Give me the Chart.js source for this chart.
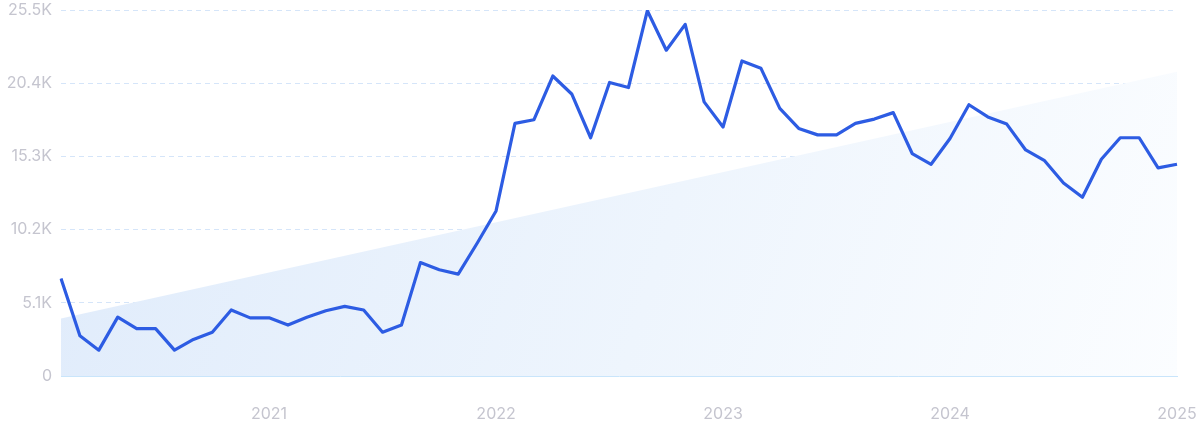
<!DOCTYPE html>
<html>
<head>
<meta charset="utf-8">
<script src="https://cdn.jsdelivr.net/npm/chart.js@4.4.1/dist/chart.umd.min.js"></script>
<style>
  html, body { margin:0; padding:0; background:#fff; }
  .wrap { width:1200px; height:432px; position:relative; }
</style>
</head>
<body>
<div class="wrap"><canvas id="trendChart"></canvas></div>
<script>
// monthly, Feb 2020 .. Jan 2025
const months = [];
for (let y = 2020; y <= 2025; y++) {
  for (let m = 1; m <= 12; m++) {
    if ((y === 2020 && m < 2) || (y === 2025 && m > 1)) continue;
    months.push(`${y}-${String(m).padStart(2, '0')}`);
  }
}

const searches = [
  6800, 2800, 1800, 4100, 3300, 3300, 1800, 2550, 3050, 4600, 4050,
  4050, 3550, 4100, 4550, 4850, 4600, 3050, 3550, 7900, 7400, 7100, 9250,
  11500, 17600, 17850, 20900, 19650, 16600, 20450, 20100, 25450, 22700, 24500, 19100,
  17350, 21950, 21450, 18650, 17250, 16800, 16800, 17600, 17900, 18350, 15500, 14750,
  16550, 18900, 18050, 17550, 15750, 15000, 13450, 12450, 15100, 16600, 16600, 14500,
  14750
];

const trendStart = 4000;
const trendEnd = 21200;

const yTicks = [0, 5100, 10200, 15300, 20400, 25500];
const yTickLabels = ['0', '5.1K', '10.2K', '15.3K', '20.4K', '25.5K'];

const tickColor = '#c5c5cf';
const font = { family: 'Inter, "Noto Sans", sans-serif', size: 16 };

function trendFill(ctx) {
  const area = ctx.chart.chartArea;
  if (!area) return 'rgba(220,233,251,0.8)';
  const g = ctx.chart.ctx.createLinearGradient(area.left, area.top, area.right, area.bottom);
  g.addColorStop(0, '#dfebfb');
  g.addColorStop(0.55, '#eef5fd');
  g.addColorStop(1, '#fbfdff');
  return g;
}

new Chart(document.getElementById('trendChart'), {
  type: 'line',
  data: {
    labels: months,
    datasets: [
      {
        label: 'Searches',
        data: searches,
        borderColor: '#2d5ce3',
        borderWidth: 3.2,
        borderJoinStyle: 'round',
        pointRadius: 0,
        tension: 0,
        fill: false,
        order: 0
      },
      {
        label: 'Trend',
        data: [{ x: months[0], y: trendStart }, { x: months[months.length - 1], y: trendEnd }],
        borderWidth: 0,
        borderColor: 'rgba(0,0,0,0)',
        backgroundColor: trendFill,
        pointRadius: 0,
        fill: 'origin',
        order: 1
      }
    ]
  },
  options: {
    responsive: true,
    maintainAspectRatio: false,
    animation: false,
    layout: { padding: { top: 10, right: 23, bottom: 0, left: 0 } },
    plugins: { legend: { display: false }, tooltip: { enabled: false } },
    scales: {
      x: {
        type: 'category',
        grid: { display: false, drawTicks: false },
        border: { display: true, color: '#c9e5fb', width: 1 },
        afterFit: (s) => { s.height = 56; s.paddingLeft = 0; s.paddingRight = 0; },
        ticks: {
          autoSkip: false,
          maxRotation: 0,
          padding: 29,
          color: tickColor,
          font,
          callback: (v, i) => months[i].endsWith('-01') ? months[i].slice(0, 4) : null
        }
      },
      y: {
        min: 0,
        max: 25500,
        afterFit: (s) => { s.width = 61; s.paddingTop = 0; s.paddingBottom = 0; },
        afterBuildTicks: (s) => { s.ticks = yTicks.map(v => ({ value: v })); },
        grid: {
          drawTicks: false,
          color: (c) => c.index === 0 ? 'rgba(0,0,0,0)' : 'rgba(185,212,245,0.6)',
          lineWidth: 1
        },
        border: { display: false, dash: [5, 4] },
        ticks: {
          padding: 9,
          color: tickColor,
          font,
          callback: (v, i) => yTickLabels[i]
        }
      }
    }
  }
});
</script>
</body>
</html>
